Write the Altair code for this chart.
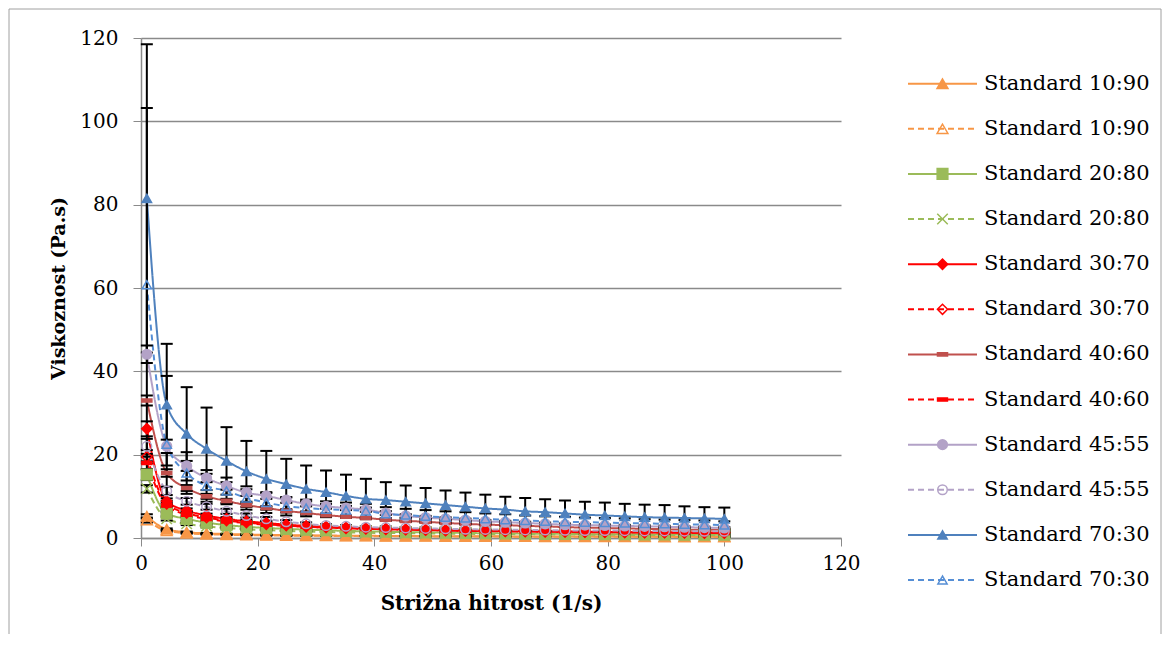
import altair as alt
import pandas as pd

# shear rate (1/s)
x_rate = [1, 4.41, 7.83, 11.24, 14.66, 18.07, 21.48, 24.9, 28.31, 31.72, 35.14, 38.55, 41.97, 45.38, 48.79,
          52.21, 55.62, 59.03, 62.45, 65.86, 69.28, 72.69, 76.1, 79.52, 82.93, 86.34, 89.76, 93.17, 96.59, 100]

names = ["Standard 10:90", "Standard 10:90", "Standard 20:80", "Standard 20:80",
         "Standard 30:70", "Standard 30:70", "Standard 40:60", "Standard 40:60",
         "Standard 45:55", "Standard 45:55", "Standard 70:30", "Standard 70:30"]

s10 = [5.2, 2.1, 1.4, 1.1, 0.95, 0.85, 0.75, 0.7, 0.65, 0.6, 0.55, 0.52, 0.5, 0.47, 0.45, 0.43, 0.42, 0.4, 0.39, 0.38, 0.37, 0.36, 0.35, 0.34, 0.33, 0.33, 0.32, 0.31, 0.31, 0.3]
d10 = [4.3, 1.7, 1.15, 0.9, 0.78, 0.7, 0.63, 0.58, 0.54, 0.5, 0.47, 0.44, 0.42, 0.4, 0.38, 0.37, 0.35, 0.34, 0.33, 0.32, 0.31, 0.3, 0.3, 0.29, 0.28, 0.28, 0.27, 0.27, 0.26, 0.26]
s20 = [15.2, 5.9, 4.6, 3.7, 3.1, 2.7, 2.4, 2.2, 2.0, 1.85, 1.7, 1.6, 1.5, 1.4, 1.35, 1.3, 1.2, 1.15, 1.1, 1.05, 1.0, 1.0, 0.95, 0.9, 0.9, 0.85, 0.85, 0.8, 0.8, 0.8]
d20 = [11.8, 4.6, 3.4, 2.8, 2.4, 2.1, 1.9, 1.7, 1.55, 1.45, 1.35, 1.25, 1.2, 1.15, 1.1, 1.05, 1.0, 0.95, 0.9, 0.9, 0.85, 0.85, 0.8, 0.8, 0.75, 0.75, 0.7, 0.7, 0.7, 0.65]
s30 = [26.2, 8.8, 6.6, 5.4, 4.6, 4.0, 3.6, 3.2, 2.9, 2.7, 2.5, 2.35, 2.2, 2.1, 2.0, 1.9, 1.8, 1.75, 1.7, 1.65, 1.6, 1.55, 1.5, 1.45, 1.4, 1.4, 1.35, 1.35, 1.3, 1.3]
d30 = [19.5, 8.2, 6.0, 4.9, 4.2, 3.7, 3.3, 3.0, 2.7, 2.5, 2.3, 2.2, 2.1, 2.0, 1.9, 1.8, 1.7, 1.65, 1.6, 1.55, 1.5, 1.45, 1.4, 1.4, 1.35, 1.3, 1.3, 1.25, 1.2, 1.2]
s40 = [33.0, 15.6, 12.0, 10.0, 8.9, 7.9, 7.2, 6.5, 6.0, 5.5, 5.1, 4.8, 4.4, 4.1, 3.9, 3.6, 3.4, 3.2, 3.1, 2.9, 2.8, 2.6, 2.5, 2.4, 2.3, 2.2, 2.1, 2.0, 2.0, 1.9]
d40 = [18.0, 7.8, 5.6, 4.6, 4.0, 3.6, 3.2, 2.9, 2.7, 2.5, 2.4, 2.2, 2.1, 2.0, 1.9, 1.8, 1.75, 1.7, 1.65, 1.6, 1.55, 1.5, 1.45, 1.4, 1.4, 1.35, 1.3, 1.3, 1.25, 1.2]
s45 = [44.1, 22.0, 17.3, 14.4, 12.5, 10.9, 10.1, 9.1, 8.2, 7.6, 7.2, 6.8, 6.0, 5.3, 4.9, 4.6, 4.3, 4.0, 3.8, 3.6, 3.4, 3.2, 3.1, 3.0, 2.9, 2.8, 2.7, 2.6, 2.5, 2.4]
d45 = [22.0, 11.3, 8.8, 7.5, 6.4, 5.4, 4.6, 3.9, 3.4, 3.0, 2.8, 2.6, 2.5, 2.4, 2.3, 2.2, 2.1, 2.05, 2.0, 1.95, 1.9, 1.85, 1.8, 1.8, 1.75, 1.7, 1.7, 1.65, 1.6, 1.6]
s70 = [81.5, 32.0, 25.0, 21.4, 18.5, 16.0, 14.2, 12.9, 11.8, 11.0, 10.1, 9.4, 9.1, 8.7, 8.3, 7.9, 7.5, 7.1, 6.8, 6.4, 6.2, 5.9, 5.6, 5.4, 5.2, 5.0, 4.9, 4.8, 4.7, 4.6]
d70 = [60.8, 22.5, 15.6, 12.5, 11.3, 9.6, 8.5, 7.6, 7.2, 6.9, 6.7, 6.5, 5.8, 5.5, 5.2, 5.0, 4.8, 4.6, 4.4, 4.2, 4.0, 3.9, 3.8, 3.7, 3.6, 3.5, 3.4, 3.3, 3.2, 3.1]

e_s10 = [0.5, 0.2, 0.15, 0.12, 0.1, 0.09, 0.08, 0.07, 0.07, 0.06, 0.06, 0.05, 0.05, 0.05, 0.05, 0.04, 0.04, 0.04, 0.04, 0.04, 0.04, 0.04, 0.03, 0.03, 0.03, 0.03, 0.03, 0.03, 0.03, 0.03]
e_d10 = [0.6, 0.2, 0.14, 0.1, 0.09, 0.08, 0.07, 0.06, 0.06, 0.05, 0.05, 0.05, 0.04, 0.04, 0.04, 0.04, 0.04, 0.03, 0.03, 0.03, 0.03, 0.03, 0.03, 0.03, 0.03, 0.03, 0.03, 0.03, 0.03, 0.03]
e_s20 = [1.3, 0.5, 0.4, 0.3, 0.26, 0.23, 0.2, 0.18, 0.17, 0.16, 0.15, 0.14, 0.13, 0.12, 0.11, 0.11, 0.1, 0.1, 0.1, 0.09, 0.09, 0.09, 0.08, 0.08, 0.08, 0.08, 0.07, 0.07, 0.07, 0.07]
e_d20 = [0.9, 0.4, 0.3, 0.25, 0.2, 0.18, 0.16, 0.15, 0.14, 0.13, 0.12, 0.11, 0.1, 0.1, 0.1, 0.09, 0.09, 0.08, 0.08, 0.08, 0.08, 0.07, 0.07, 0.07, 0.07, 0.07, 0.06, 0.06, 0.06, 0.06]
e_s30 = [1.8, 0.7, 0.5, 0.45, 0.4, 0.35, 0.3, 0.28, 0.25, 0.23, 0.21, 0.2, 0.19, 0.18, 0.17, 0.16, 0.15, 0.15, 0.14, 0.14, 0.13, 0.13, 0.12, 0.12, 0.12, 0.12, 0.11, 0.11, 0.11, 0.11]
e_d30 = [1.6, 0.7, 0.5, 0.4, 0.35, 0.3, 0.28, 0.25, 0.22, 0.2, 0.19, 0.18, 0.17, 0.16, 0.15, 0.15, 0.14, 0.14, 0.13, 0.13, 0.12, 0.12, 0.12, 0.11, 0.11, 0.11, 0.1, 0.1, 0.1, 0.1]
e_s40 = [1.2, 0.9, 0.7, 0.6, 0.5, 0.45, 0.4, 0.38, 0.35, 0.32, 0.3, 0.28, 0.26, 0.25, 0.23, 0.22, 0.21, 0.2, 0.19, 0.18, 0.17, 0.17, 0.16, 0.15, 0.15, 0.14, 0.14, 0.13, 0.13, 0.13]
e_d40 = [1.5, 0.6, 0.45, 0.4, 0.35, 0.3, 0.27, 0.25, 0.23, 0.21, 0.2, 0.19, 0.18, 0.17, 0.16, 0.15, 0.15, 0.14, 0.14, 0.13, 0.13, 0.12, 0.12, 0.12, 0.11, 0.11, 0.11, 0.1, 0.1, 0.1]
e_s45 = [2.1, 1.6, 1.2, 1.0, 0.9, 0.8, 0.7, 0.65, 0.6, 0.55, 0.5, 0.5, 0.45, 0.4, 0.4, 0.38, 0.35, 0.33, 0.32, 0.3, 0.3, 0.28, 0.27, 0.26, 0.25, 0.24, 0.23, 0.22, 0.22, 0.21]
e_d45 = [1.8, 1.0, 0.8, 0.7, 0.6, 0.5, 0.45, 0.4, 0.35, 0.3, 0.3, 0.28, 0.26, 0.25, 0.24, 0.23, 0.22, 0.21, 0.2, 0.2, 0.19, 0.19, 0.18, 0.18, 0.18, 0.17, 0.17, 0.17, 0.16, 0.16]
e_s70 = [37.0, 14.6, 11.2, 9.9, 8.1, 7.3, 6.7, 6.1, 5.6, 5.2, 5.1, 4.8, 4.3, 3.9, 3.7, 3.5, 3.4, 3.3, 3.1, 3.2, 3.1, 3.1, 3.1, 3.1, 3.0, 3.0, 3.0, 2.8, 2.7, 2.7]
e_d70 = [42.4, 16.4, 5.0, 3.8, 3.2, 2.8, 2.5, 2.2, 2.0, 1.9, 1.8, 1.7, 1.6, 1.5, 1.5, 1.4, 1.4, 1.3, 1.3, 1.2, 1.2, 1.2, 1.1, 1.1, 1.1, 1.0, 1.0, 1.0, 1.0, 0.9]

values = [s10, d10, s20, d20, s30, d30, s40, d40, s45, d45, s70, d70]
errors = [e_s10, e_d10, e_s20, e_d20, e_s30, e_d30, e_s40, e_d40, e_s45, e_d45, e_s70, e_d70]

# styles
colors = ["#F79646", "#F79646", "#9BBB59", "#9BBB59", "#FF0000", "#FF0000",
          "#C0504D", "#FF0000", "#B3A2C7", "#B3A2C7", "#4F81BD", "#558ED5"]
dashes = [[1, 0], [6, 4]] * 6
X_PATH = "M-1,-1L1,1M-1,1L1,-1"
BAR = "M-1,-0.32L1,-0.32L1,0.32L-1,0.32Z"
shapes = ["triangle-up", "triangle-up", "square", X_PATH, "diamond", "diamond",
          BAR, BAR, "circle", "circle", "triangle-up", "triangle-up"]
fills = [colors[0], "transparent", colors[2], "transparent", colors[4], "transparent",
         colors[6], colors[7], colors[8], "transparent", colors[10], "transparent"]
sizes = [120, 85, 130, 90, 110, 90, 121, 130, 120, 85, 120, 85]

keys = [f"{i:02d}" for i in range(len(names))]

rows = []
for k, nm, vals, errs in zip(keys, names, values, errors):
    for xv, yv, ev in zip(x_rate, vals, errs):
        rows.append({"key": k, "name": nm, "x": xv, "y": yv, "lo": yv - ev, "hi": yv + ev})
df = pd.DataFrame(rows)
leg = pd.DataFrame({"key": keys, "name": names, "x0": 0.0, "xm": 0.5, "x1": 1.0})

FONT = "DejaVu Serif"
GRAY = "#8a8a8a"

stroke_sc = alt.Scale(domain=keys, range=colors)
dash_sc = alt.Scale(domain=keys, range=dashes)
shape_sc = alt.Scale(domain=keys, range=shapes)
fill_sc = alt.Scale(domain=keys, range=fills)
size_sc = alt.Scale(domain=keys, range=sizes)

xs = alt.Scale(domain=[0, 120], nice=False, zero=False)
ys = alt.Scale(domain=[0, 120], nice=False, zero=False)

x_axis = alt.Axis(values=[0, 20, 40, 60, 80, 100, 120], grid=False, tickColor=GRAY, tickSize=8,
                  domainColor=GRAY, domainWidth=1.5, labelFont=FONT, labelFontSize=20, labelColor="black",
                  labelPadding=7, labelFlush=False, labelOverlap=False,
                  title="Strižna hitrost (1/s)", titleFont=FONT, titleFontSize=20,
                  titleFontWeight="bold", titleColor="black", titlePadding=20)
y_axis = alt.Axis(values=[0, 20, 40, 60, 80, 100, 120], grid=True, gridColor=GRAY, gridWidth=1.5,
                  tickColor=GRAY, tickSize=8, domainColor=GRAY, domainWidth=1.5,
                  labelFont=FONT, labelFontSize=20, labelColor="black", labelPadding=15,
                  labelFlush=False, labelOverlap=False,
                  title="Viskoznost (Pa.s)", titleFont=FONT, titleFontSize=19,
                  titleFontWeight="bold", titleColor="black", titlePadding=11)

base = alt.Chart(df)

lines = base.mark_line(strokeWidth=2, interpolate="monotone").encode(
    x=alt.X("x:Q", scale=xs, axis=x_axis),
    y=alt.Y("y:Q", scale=ys, axis=y_axis),
    detail="key:N",
    stroke=alt.Stroke("key:N", scale=stroke_sc, legend=None),
    strokeDash=alt.StrokeDash("key:N", scale=dash_sc, legend=None),
)

err_rule = base.mark_rule(color="black", strokeWidth=2).encode(
    x="x:Q", y="lo:Q", y2="hi:Q")
cap_hi = base.mark_rule(color="black", strokeWidth=2, xOffset=-6, x2Offset=6).encode(
    x="x:Q", x2="x:Q", y="hi:Q")
cap_lo = base.mark_rule(color="black", strokeWidth=2, xOffset=-6, x2Offset=6).encode(
    x="x:Q", x2="x:Q", y="lo:Q")

points = base.mark_point(opacity=1, strokeWidth=1.5).encode(
    x="x:Q", y="y:Q",
    shape=alt.Shape("key:N", scale=shape_sc, legend=None),
    fill=alt.Fill("key:N", scale=fill_sc, legend=None),
    stroke=alt.Stroke("key:N", scale=stroke_sc, legend=None),
    size=alt.Size("key:N", scale=size_sc, legend=None),
)

one = alt.Data(values=[{"a": 1}])
border_l = alt.Chart(one).mark_rule(color="#a0a0a0", strokeWidth=1).encode(
    x=alt.value(-132), y=alt.value(-29), y2=alt.value(596))
border_t = alt.Chart(one).mark_rule(color="#a0a0a0", strokeWidth=1).encode(
    x=alt.value(-132), x2=alt.value(1020), y=alt.value(-29))
border_r = alt.Chart(one).mark_rule(color="#a0a0a0", strokeWidth=1).encode(
    x=alt.value(1020), y=alt.value(-29), y2=alt.value(596))

main = alt.layer(border_l, border_t, border_r, lines, err_rule, cap_hi, cap_lo, points)

lbase = alt.Chart(leg)
lx = alt.Scale(domain=[0, 1], range=[767, 836])
ly = alt.Scale(type="point", domain=keys, range=[45.7, 542], padding=0)
leg_line = lbase.mark_rule(strokeWidth=2).encode(
    x=alt.X("x0:Q", scale=lx, axis=None), x2="x1:Q",
    y=alt.Y("key:N", scale=ly, axis=None),
    stroke=alt.Stroke("key:N", scale=stroke_sc, legend=None),
    strokeDash=alt.StrokeDash("key:N", scale=dash_sc, legend=None),
)
leg_pt = lbase.mark_point(opacity=1, strokeWidth=1.5).encode(
    x="xm:Q", y="key:N",
    shape=alt.Shape("key:N", scale=shape_sc, legend=None),
    fill=alt.Fill("key:N", scale=fill_sc, legend=None),
    stroke=alt.Stroke("key:N", scale=stroke_sc, legend=None),
    size=alt.Size("key:N", scale=size_sc, legend=None),
)
leg_txt = lbase.mark_text(align="left", baseline="middle", dx=7, font=FONT, fontSize=21, color="black").encode(
    x="x1:Q", y="key:N", text="name:N")
legend = alt.layer(leg_line, leg_pt, leg_txt)

chart = alt.layer(main, legend).resolve_scale(x="independent", y="independent").properties(
    width=700, height=500, padding=0, background="white"
).configure_view(stroke=None)

chart.save("out.html", embed_options={"renderer": "svg", "actions": False})
